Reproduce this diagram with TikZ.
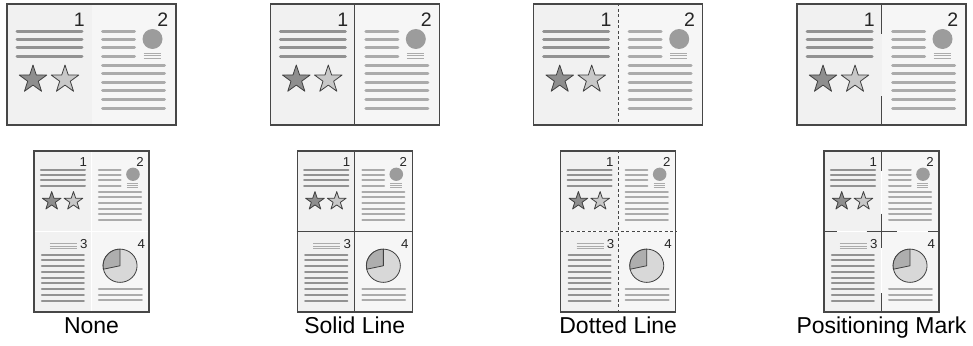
\documentclass[tikz,border=0pt]{standalone}
\usepackage{fontspec}
\setmainfont{Liberation Sans}

\definecolor{rimgray}{HTML}{474747}
\definecolor{pgleft}{HTML}{F1F1F1}
\definecolor{pgright}{HTML}{F6F6F6}
\definecolor{bardark}{HTML}{929292}
\definecolor{barlight}{HTML}{ABABAB}
\definecolor{stardark}{HTML}{8E8E8E}
\definecolor{starlight}{HTML}{C8C8C8}
\definecolor{piedark}{HTML}{AEAEAE}
\definecolor{pielight}{HTML}{D8D8D8}
\definecolor{dotgray}{HTML}{9C9C9C}

\tikzset{
  bar/.style={line width=3pt, draw=bardark, line cap=round},
  barpale/.style={bar, draw=barlight},
  hair/.style={line width=0.7pt, draw=barlight},
  outline/.style={draw=black!75, line width=0.8pt, line join=round},
  num/.style={font=\fontsize{19.5}{20}\selectfont, text=black!85, inner sep=0pt, anchor=base east},
  pics/pgone/.style={code={
    \fill[pgleft] (0,0) rectangle (84.5,121);
    \node[num] (n1) at (78,23) {1};
    \foreach \yy in {28,36,44,52.5} \draw[bar] (10,\yy) -- (75,\yy);
    \foreach \cx/\col in {26/stardark,58/starlight}
      \draw[outline, fill=\col] (\cx,75.5) +(-90:14.5) -- +(-54:5.6) -- +(-18:14.5) -- +(18:5.6)
        -- +(54:14.5) -- +(90:5.6) -- +(126:14.5) -- +(162:5.6) -- +(198:14.5) -- +(234:5.6) -- cycle;
  }},
  pics/pgtwo/.style={code={
    \fill[pgright] (0,0) rectangle (84.5,121);
    \node[num] (n2) at (77,23) {2};
    \foreach \yy in {28,36,44,52.5} \draw[barpale] (11,\yy) -- (43,\yy);
    \fill[dotgray] (61,35) circle[radius=10];
    \foreach \yy in {49,51.5,54} \draw[hair] (52,\yy) -- (69,\yy);
    \foreach \k in {0,...,5} \draw[barpale] (11,61+8.6*\k) -- (73,61+8.6*\k);
  }},
  pics/pgthree/.style={code={
    \fill[pgleft] (0,0) rectangle (84.5,121);
    \node[num] (n3) at (79,25) {3};
    \foreach \yy in {18.5,22,25.5} \draw[hair] (23.5,\yy) -- (63,\yy);
    \foreach \k in {0,...,8} \draw[bar] (11.5,34.6+8.65*\k) -- (73.5,34.6+8.65*\k);
  }},
  pics/pgfour/.style={code={
    \fill[pgright] (0,0) rectangle (84.5,121);
    \node[num] (n4) at (79,25) {4};
    \draw[outline, fill=pielight] (42,51.5) circle[radius=25];
    \draw[outline, fill=piedark] (42,51.5) -- +(168:25) arc[start angle=168, end angle=270, radius=25] -- cycle;
    \foreach \yy in {87,95,103.5} \draw[barpale] (11,\yy) -- (74,\yy);
  }}
}

\begin{document}
\begin{tikzpicture}[
  x=1pt, y=-1pt,
  sheet/.style={draw=rimgray, line width=1.4pt, inner sep=0pt},
  divider/.style={draw=rimgray, line width=1.1pt},
  dashdiv/.style={divider, line width=0.9pt, dash pattern=on 3pt off 2.5pt},
  small/.style={xscale=0.68, yscale=0.665, transform shape, bar/.append style={line width=2pt}},
  lbl/.style={font=\fontsize{23}{24}\selectfont, inner sep=0pt, anchor=base}
]
\useasboundingbox[fill=white] (0,0) rectangle (973,345);

% the four sheets, top: two pages, bottom: four pages
\foreach \cx [count=\i from 0] in {91.5,354.8,618.2,881.5} {
  \pic at (\cx-84.5,4) {pgone};
  \pic at (\cx,4) {pgtwo};
  \node[sheet, minimum width=169pt, minimum height=121pt] (top\i) at (\cx,64.5) {};
  \pic[small] at (\cx-57.5,151) {pgone};
  \pic[small] at (\cx,151) {pgtwo};
  \pic[small] at (\cx-57.5,231.5) {pgthree};
  \pic[small] at (\cx,231.5) {pgfour};
  \node[sheet, minimum width=115pt, minimum height=161pt] (bot\i) at (\cx,231.5) {};
}

% solid line
\draw[divider] (top1.north) -- (top1.south);
\draw[divider] (bot1.north) -- (bot1.south) (bot1.west) -- (bot1.east);
% dotted line
\draw[dashdiv] (top2.north) -- (top2.south);
\draw[dashdiv] (bot2.north) -- (bot2.south) (bot2.west) -- (bot2.east);
% positioning mark
\draw[divider] (top3.north) -- ++(0,31) (top3.south) -- ++(0,-30);
\draw[divider] (bot3.north) -- ++(0,21) (bot3.south) -- ++(0,-20)
  (bot3.center) ++(0,-18) -- ++(0,34) (bot3.center) ++(-15,0) -- ++(30,0)
  (bot3.west) -- ++(14,0) (bot3.east) -- ++(-12,0);

\foreach \cx/\txt [count=\i from 0] in {91.5/None,354.8/Solid Line,618.2/Dotted Line,881.5/Positioning Mark}
  \node[lbl] (lbl\i) at (\cx,333) {\txt};
\end{tikzpicture}
\end{document}
